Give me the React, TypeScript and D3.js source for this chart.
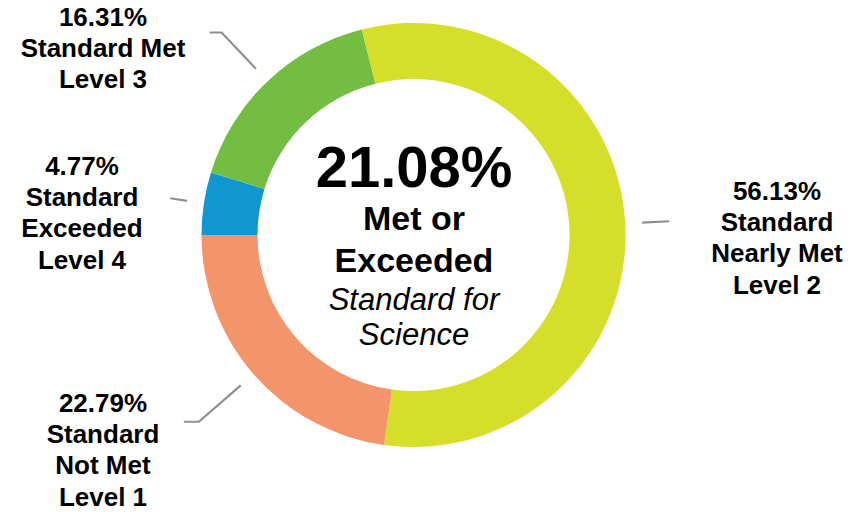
import React from "react";
import * as d3 from "d3";

// ---- data ----
const levels = ["Standard Exceeded Level 4", "Standard Met Level 3", "Standard Nearly Met Level 2", "Standard Not Met Level 1"];
const values = [4.77, 16.31, 56.13, 22.79];
const labelLines = [
  ["4.77%", "Standard", "Exceeded", "Level 4"],
  ["16.31%", "Standard Met", "Level 3"],
  ["56.13%", "Standard", "Nearly Met", "Level 2"],
  ["22.79%", "Standard", "Not Met", "Level 1"],
];
const centerValue = "21.08%";
const centerLines = ["Met or", "Exceeded"];
const centerSub = ["Standard for", "Science"];

// ---- styles / layout ----
const colors = ["#1097d0", "#74bd43", "#d5df2a", "#f3956a"];
const W = 860, H = 512;
const CX = 413.5, CY = 235, R_OUT = 212, R_IN = 156;
const leaderInner = 229;
const leaderOuter = [246, 279, 256, 284.5];
const leaderTail = [0, -12, 0, -15];
const labelPos = [
  { x: 82, y: 175 },
  { x: 103, y: 26 },
  { x: 777, y: 200 },
  { x: 103, y: 412 },
];
const lineGap = 31.2;
const FONT = "'Liberation Sans', Arial, Helvetica, sans-serif";

export default function App() {
  const pie = d3
    .pie<number>()
    .sort(null)
    .value((d) => d)
    .startAngle(-Math.PI / 2)
    .endAngle((3 * Math.PI) / 2);
  const arcs = pie(values);
  const arcGen = d3.arc<d3.PieArcDatum<number>>().innerRadius(R_IN).outerRadius(R_OUT);

  const polar = (r: number, a: number) => [CX + r * Math.sin(a), CY - r * Math.cos(a)];

  return (
    <svg
      width={W}
      height={H}
      style={{ position: "absolute", left: 0, top: 0, background: "#fff" }}
      fontFamily={FONT}
    >
      <rect width={W} height={H} fill="#fff" />
      <g transform={`translate(${CX},${CY})`}>
        {arcs.map((a, i) => (
          <path key={levels[i]} d={arcGen(a) || ""} fill={colors[i]} />
        ))}
      </g>
      {arcs.map((a, i) => {
        const mid = (a.startAngle + a.endAngle) / 2;
        const p1 = polar(leaderInner, mid);
        const p2 = polar(leaderOuter[i], mid);
        const pts = [p1, p2];
        if (leaderTail[i] !== 0) pts.push([p2[0] + leaderTail[i], p2[1]]);
        const d = d3.line()(pts as [number, number][]) || "";
        return <path key={"l" + i} d={d} fill="none" stroke="#8f8f8f" strokeWidth={2.2} />;
      })}
      {labelLines.map((lines, i) => (
        <text
          key={"t" + i}
          x={labelPos[i].x}
          y={labelPos[i].y}
          textAnchor="middle"
          fontWeight="bold"
          fontSize={26}
          fill="#000"
        >
          {lines.map((s, j) => (
            <tspan key={j} x={labelPos[i].x} y={labelPos[i].y + j * lineGap}>
              {s}
            </tspan>
          ))}
        </text>
      ))}
      <text x={414} y={187} textAnchor="middle" fontWeight="bold" fontSize={58} fill="#000">
        {centerValue}
      </text>
      {centerLines.map((s, j) => (
        <text key={"c" + j} x={414} y={230 + j * 42} textAnchor="middle" fontWeight="bold" fontSize={34} fill="#000">
          {s}
        </text>
      ))}
      {centerSub.map((s, j) => (
        <text key={"s" + j} x={414} y={310 + j * 35} textAnchor="middle" fontStyle="italic" fontSize={31} fill="#000">
          {s}
        </text>
      ))}
    </svg>
  );
}
